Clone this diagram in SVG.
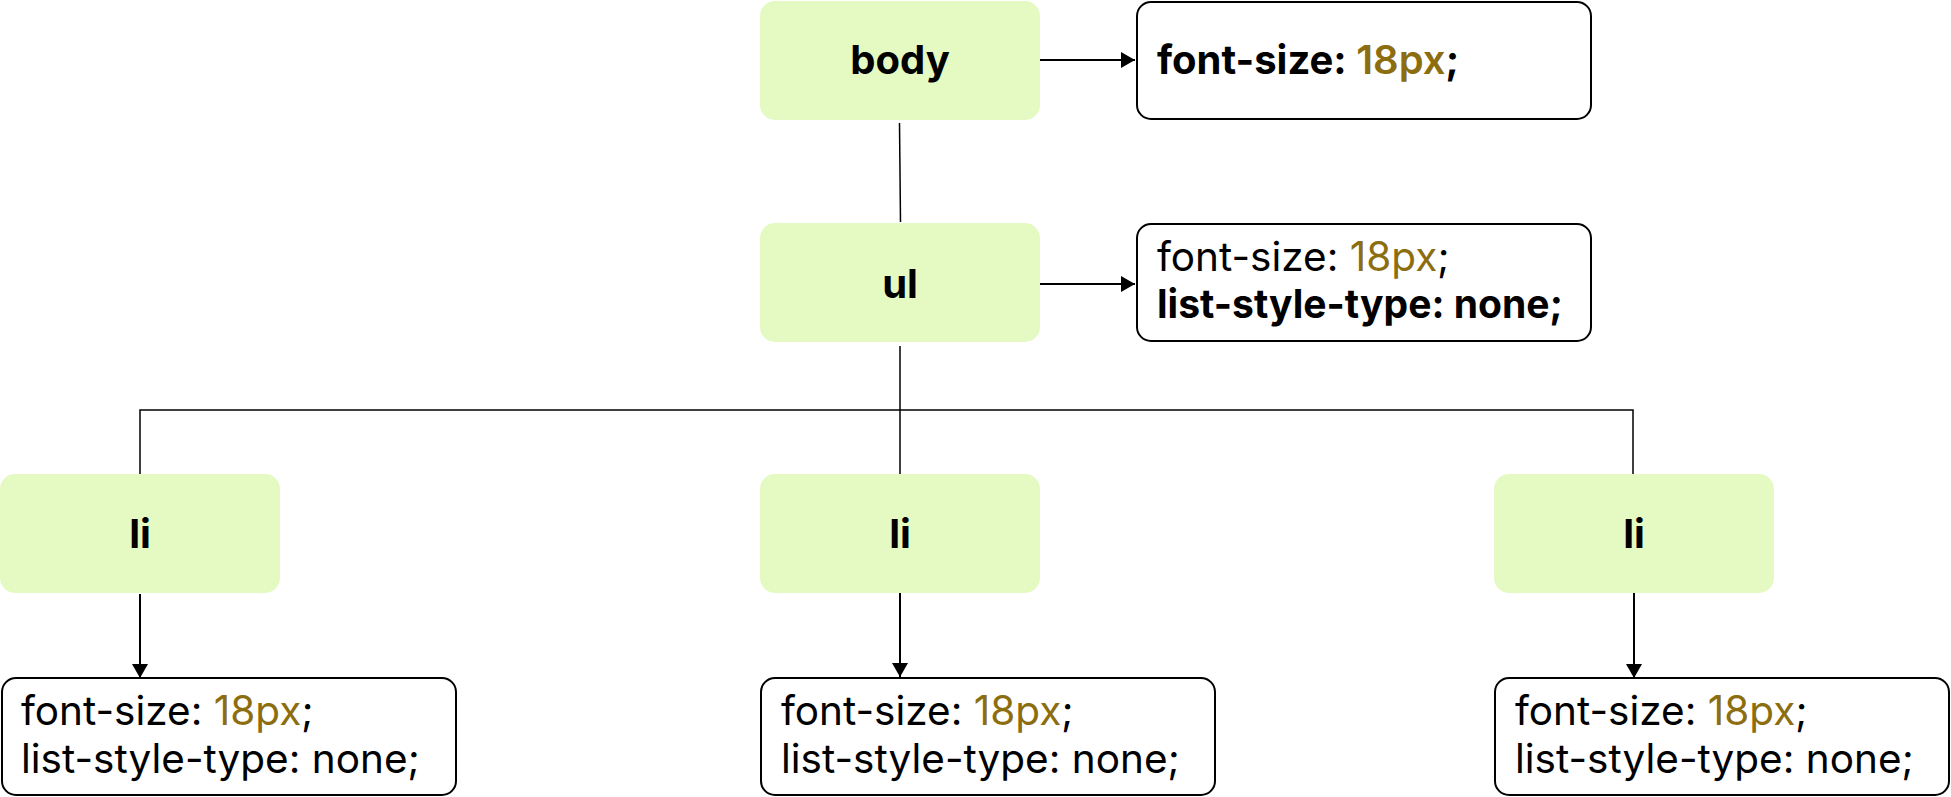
<svg xmlns="http://www.w3.org/2000/svg" width="1951" height="797" viewBox="0 0 1951 797">
  <style>
    .node { fill: #E4FAC2; }
    .props { fill: #FFFFFF; stroke: #000000; stroke-width: 2; }
    .t { font-family: Inter, "Noto Sans", "Liberation Sans", sans-serif; font-size: 40px; fill: #000000; }
    .b { font-weight: 700; }
    .r { font-weight: 400; font-size: 40.5px; }
    .gold { fill: #8C6D0F; }
    .semi { font-weight: 600; }
    .wire { fill: none; stroke: #000000; stroke-width: 1.5; }
    .arrow { fill: none; stroke: #000000; stroke-width: 2; }
  </style>
  <defs>
    <marker id="ah" viewBox="0 0 14 16" refX="14" refY="8" markerWidth="14" markerHeight="16" markerUnits="userSpaceOnUse" orient="auto">
      <path d="M0,0 L14,8 L0,16 z" fill="#000000"/>
    </marker>
  </defs>
  <rect width="1951" height="797" fill="#FFFFFF"/>

  <g id="connectors">
    <line class="wire" x1="899.5" y1="123" x2="900.5" y2="222"/>
    <path class="wire" d="M900,346 V477"/>
    <path class="wire" d="M140,477 V410 H1633 V477"/>
    <line class="arrow" x1="1040" y1="60" x2="1135" y2="60" marker-end="url(#ah)"/>
    <line class="arrow" x1="1040" y1="284" x2="1135" y2="284" marker-end="url(#ah)"/>
    <line class="arrow" x1="140" y1="594" x2="140" y2="678" marker-end="url(#ah)"/>
    <line class="arrow" x1="900" y1="592" x2="900" y2="677" marker-end="url(#ah)"/>
    <line class="arrow" x1="1634" y1="592" x2="1634" y2="678" marker-end="url(#ah)"/>
  </g>

  <g id="node-body">
    <rect class="node" x="760" y="1" width="280" height="119" rx="15"/>
    <text class="t b" x="900" y="74" text-anchor="middle">body</text>
  </g>
  <g id="props-body">
    <rect class="props" x="1137" y="2" width="454" height="117" rx="14"/>
    <text class="t b" x="1157" y="74">font-size: <tspan class="gold semi">18px</tspan>;</text>
  </g>

  <g id="node-ul">
    <rect class="node" x="760" y="223" width="280" height="119" rx="15"/>
    <text class="t b" x="900" y="298" text-anchor="middle">ul</text>
  </g>
  <g id="props-ul">
    <rect class="props" x="1137" y="224" width="454" height="117" rx="14"/>
    <text class="t r" x="1157" y="271">font-size: <tspan class="gold">18px</tspan>;</text>
    <text class="t b" x="1157" y="318" textLength="406" lengthAdjust="spacingAndGlyphs">list-style-type: none;</text>
  </g>

  <g id="node-li-1">
    <rect class="node" x="0" y="474" width="280" height="119" rx="15"/>
    <text class="t b" x="140" y="548" text-anchor="middle">li</text>
  </g>
  <g id="props-li-1">
    <rect class="props" x="2" y="678" width="454" height="117" rx="14"/>
    <text class="t r" x="21" y="725">font-size: <tspan class="gold">18px</tspan>;</text>
    <text class="t r" x="21" y="773">list-style-type: none;</text>
  </g>

  <g id="node-li-2">
    <rect class="node" x="760" y="474" width="280" height="119" rx="15"/>
    <text class="t b" x="900" y="548" text-anchor="middle">li</text>
  </g>
  <g id="props-li-2">
    <rect class="props" x="761" y="678" width="454" height="117" rx="14"/>
    <text class="t r" x="781" y="725">font-size: <tspan class="gold">18px</tspan>;</text>
    <text class="t r" x="781" y="773">list-style-type: none;</text>
  </g>

  <g id="node-li-3">
    <rect class="node" x="1494" y="474" width="280" height="119" rx="15"/>
    <text class="t b" x="1634" y="548" text-anchor="middle">li</text>
  </g>
  <g id="props-li-3">
    <rect class="props" x="1495" y="678" width="454" height="117" rx="14"/>
    <text class="t r" x="1515" y="725">font-size: <tspan class="gold">18px</tspan>;</text>
    <text class="t r" x="1515" y="773">list-style-type: none;</text>
  </g>
</svg>
